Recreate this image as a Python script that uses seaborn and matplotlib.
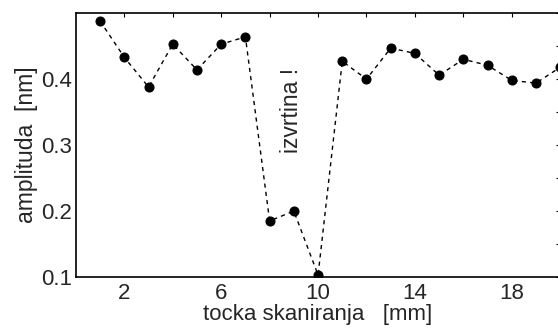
import seaborn as sns
import matplotlib.pyplot as plt
import pandas as pd

# scan point positions [mm] and measured amplitude [nm]
position = [1, 2, 3, 4, 5, 6, 7, 8, 9, 10, 11, 12, 13, 14, 15, 16, 17, 18, 19, 20]
amplitude = [0.488, 0.433, 0.388, 0.453, 0.414, 0.453, 0.464, 0.185, 0.200, 0.103,
             0.427, 0.400, 0.447, 0.439, 0.406, 0.430, 0.421, 0.398, 0.394, 0.418]

x_ticks = [2, 4, 6, 8, 10, 12, 14, 16, 18]
x_tick_labels = ['2', '', '6', '', '10', '', '14', '', '18']
y_ticks = [0.1, 0.2, 0.3, 0.4, 0.5]
y_tick_labels = ['0.1', '0.2', '0.3', '0.4', '']

df = pd.DataFrame({'position': position, 'amplitude': amplitude})

sns.set_style('white')
plt.rcParams['font.family'] = ['Liberation Sans', 'DejaVu Sans']

fig = plt.figure(figsize=(5.58, 3.29), dpi=100)
ax = fig.add_axes([0.136, 0.158, 0.868, 0.802])

sns.lineplot(data=df, x='position', y='amplitude', ax=ax, color='black',
             linewidth=1.0, linestyle=(0, (3, 3)), marker='o', markersize=6.5,
             markeredgecolor='black', markerfacecolor='black')

ax.set_xlim(0, 20)
ax.set_ylim(0.1, 0.5)
ax.set_xticks(x_ticks)
ax.set_xticklabels(x_tick_labels, fontsize=16)
ax.set_yticks(y_ticks)
ax.set_yticklabels(y_tick_labels, fontsize=16)
ax.set_yticks([0.15, 0.25, 0.35, 0.45], minor=True)
ax.tick_params(which='both', direction='in', top=True, right=True,
               length=3, width=0.8, color='black')
ax.tick_params(axis='x', pad=4)
ax.tick_params(axis='y', pad=3)

for s in ax.spines.values():
    s.set_color('black')
    s.set_linewidth(1.2)

ax.set_xlabel('tocka skaniranja   [mm]', fontsize=16, labelpad=0)
ax.set_ylabel('amplituda  [nm]', fontsize=16.5, labelpad=2)

ax.text(8.9, 0.353, 'izvrtina !', rotation=90, fontsize=16.5,
        ha='center', va='center')

fig.savefig('out.png', dpi=100)
plt.close(fig)
